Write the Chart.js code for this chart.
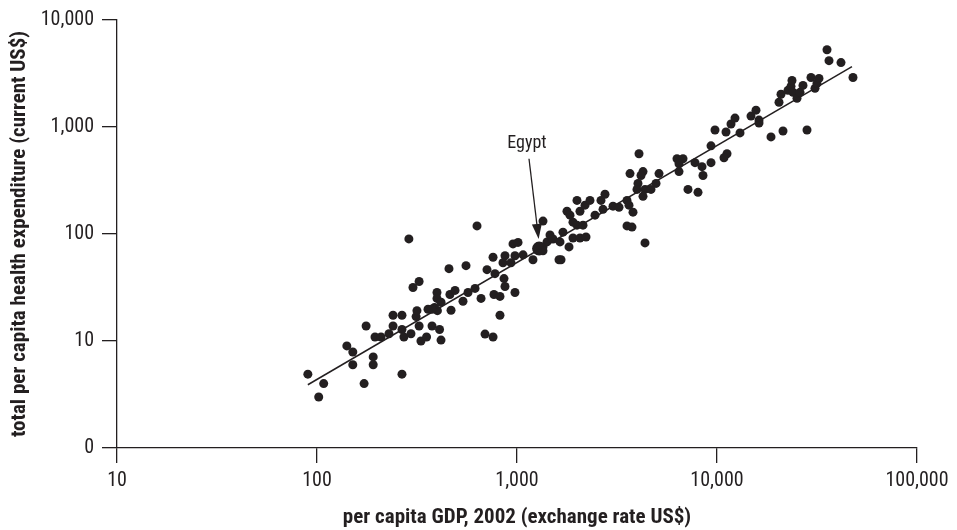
<!DOCTYPE html>
<html>
<head>
<meta charset="utf-8">
<script src="https://cdn.jsdelivr.net/npm/chart.js@4/dist/chart.umd.min.js"></script>
<style>
  html, body { margin: 0; padding: 0; background: #fff; }
  canvas { display: block; }
</style>
</head>
<body>
<canvas id="chart" width="957" height="530"></canvas>
<script>
// Data (both axes are log scale)
const gdp = [
  90, 102, 108, 141, 151, 151, 172, 176, 191, 191,
  195, 209, 229, 240, 240, 266, 266, 272, 266, 295,
  288, 302, 324, 313, 316, 324, 331, 353, 359, 376,
  387, 400, 410, 417, 376, 398, 398, 417, 457, 462,
  468, 490, 537, 556, 569, 617, 631, 661, 692, 759,
  708, 759, 776, 767, 822, 822, 861, 871, 871, 851,
  933, 977, 977, 955, 1012, 1072, 1202, 1349, 1349, 1349,
  1413, 1462, 1514, 1641, 1698, 1622, 1660, 1778, 1841, 1820,
  1905, 1995, 1905, 1995, 2065, 2065, 2138, 2188, 2213, 2317,
  2455, 2630, 2692, 2754, 3020, 3236, 3548, 3631, 3802, 3548,
  3758, 4365, 3673, 4074, 4266, 4169, 5129, 4955, 4027, 3981,
  4365, 4677, 4266, 6310, 6761, 6457, 7762, 8414, 9333, 6457,
  8511, 7161, 8035, 9333, 9772, 11092, 11220, 10839, 11749, 12303,
  13032, 14791, 15668, 16218, 16218, 18621, 21380, 20417, 20893, 22646,
  23442, 23714, 23988, 25119, 26002, 26915, 28184, 29512, 30903, 31623,
  32359, 35481, 36308, 41687, 47863
];
const health = [
  4.9, 3.0, 4.0, 9.0, 7.9, 6.0, 4.0, 13.8, 7.1, 6.0,
  10.9, 10.9, 11.7, 13.8, 17.4, 17.4, 12.8, 10.9, 4.9, 11.7,
  90, 31.6, 36, 16.9, 19.2, 13.8, 10, 10.9, 19.8, 13.8,
  20.6, 19.2, 12.8, 10.2, 19.8, 28.4, 25, 23, 47.4, 27.2,
  19.4, 29.7, 23.5, 50.6, 28.4, 31, 119, 25, 11.6, 10.9,
  46.4, 60.6, 42.6, 27.2, 26.1, 17.4, 38.3, 32.3, 62.6, 53.9,
  53.9, 62.6, 28.4, 80.8, 83.4, 63.9, 57.4, 132, 75.8, 69.6,
  84.3, 97.9, 89.9, 84.3, 104, 57.4, 57.4, 163, 150, 75.8,
  129, 121, 91.8, 206, 163, 91.8, 121, 186, 93.8, 206,
  150, 206, 170, 235, 182, 178, 206, 186, 160, 119,
  116, 82.6, 367, 562, 383, 352, 367, 297, 297, 261,
  261, 261, 225, 505, 505, 454, 464, 426, 464, 383,
  352, 261, 245, 667, 938, 899, 562, 516, 1066, 1211,
  880, 1264, 1436, 1161, 1089, 808, 918, 1703, 2021, 2202,
  2398, 2723, 2109, 1857, 2109, 2448, 938, 2904, 2297, 2555,
  2844, 5272, 4170, 4000, 2904
];

// fitted line end points
const trendGdp = [90, 47300];
const trendHealth = [3.9, 3670];

// Egypt: the point, where the label sits and where the arrow starts
const egyptGdp = [1290];
const egyptHealth = [73];
const egyptLabel = ['Egypt'];
const egyptLabelAt = [1122, 700];
const egyptArrowFrom = [1148, 505];
const egyptArrowTo = [1283, 90];

const xTicks = [10, 100, 1000, 10000, 100000];
const xTickLabels = ['10', '100', '1,000', '10,000', '100,000'];
const yTicks = [1, 10, 100, 1000, 10000];
const yTickLabels = ['0', '10', '100', '1,000', '10,000'];

const ink = '#231f20';
const family = "'Liberation Sans Narrow', 'Roboto Condensed', 'DejaVu Sans Condensed', sans-serif";

const points = gdp.map((g, i) => ({ x: g, y: health[i] }));
const trend = trendGdp.map((g, i) => ({ x: g, y: trendHealth[i] }));
const egypt = egyptGdp.map((g, i) => ({ x: g, y: egyptHealth[i] }));

// label + arrow for Egypt
const egyptNote = {
  id: 'egyptNote',
  afterDatasetsDraw(chart) {
    const { ctx, scales: { x, y } } = chart;
    const lx = x.getPixelForValue(egyptLabelAt[0]), ly = y.getPixelForValue(egyptLabelAt[1]);
    const x0 = x.getPixelForValue(egyptArrowFrom[0]), y0 = y.getPixelForValue(egyptArrowFrom[1]);
    const x1 = x.getPixelForValue(egyptArrowTo[0]), y1 = y.getPixelForValue(egyptArrowTo[1]);
    ctx.save();
    ctx.fillStyle = ink;
    ctx.strokeStyle = ink;
    ctx.font = `18px ${family}`;
    ctx.textAlign = 'center';
    ctx.textBaseline = 'middle';
    ctx.fillText(egyptLabel[0], lx, ly);
    const ang = Math.atan2(y1 - y0, x1 - x0);
    const headLen = 15, headW = 5;
    const bx = x1 - headLen * Math.cos(ang), by = y1 - headLen * Math.sin(ang);
    ctx.lineWidth = 1.3;
    ctx.beginPath();
    ctx.moveTo(x0, y0);
    ctx.lineTo(bx, by);
    ctx.stroke();
    ctx.beginPath();
    ctx.moveTo(x1, y1);
    ctx.lineTo(bx + headW * Math.sin(ang), by - headW * Math.cos(ang));
    ctx.lineTo(bx - headW * Math.sin(ang), by + headW * Math.cos(ang));
    ctx.closePath();
    ctx.fill();
    ctx.restore();
  }
};

new Chart(document.getElementById('chart'), {
  type: 'scatter',
  data: {
    datasets: [
      { data: points, pointRadius: 4.5, pointHoverRadius: 4.5, backgroundColor: ink, borderWidth: 0, order: 2 },
      { data: egypt, pointRadius: 7, backgroundColor: ink, borderWidth: 0, order: 1 },
      { type: 'line', data: trend, showLine: true, pointRadius: 0, borderColor: ink, borderWidth: 1.5, fill: false, order: 0 }
    ]
  },
  options: {
    responsive: false,
    animation: false,
    layout: { padding: { left: 0, right: 40, top: 16, bottom: 0 } },
    plugins: { legend: { display: false }, tooltip: { enabled: false } },
    scales: {
      x: {
        type: 'logarithmic',
        min: 10, max: 100000,
        afterBuildTicks: s => { s.ticks = xTicks.map(v => ({ value: v })); },
        afterFit: s => { s.height = 82; },
        border: { color: ink, width: 1.3 },
        grid: { drawOnChartArea: false, tickLength: 15, color: ink, lineWidth: 1.3 },
        ticks: { color: ink, font: { family, size: 20 }, padding: 6, maxRotation: 0, callback: (v, i) => xTickLabels[i] },
        title: { display: true, text: 'per capita GDP, 2002 (exchange rate US$)', color: ink,
                 font: { family, size: 21, weight: 'bold' }, padding: { top: 0, bottom: 0 } }
      },
      y: {
        type: 'logarithmic',
        min: 1, max: 10000,
        afterBuildTicks: s => { s.ticks = yTicks.map(v => ({ value: v })); },
        afterFit: s => { s.width = 117; },
        border: { color: ink, width: 1.3 },
        grid: { drawOnChartArea: false, tickLength: 15, color: ink, lineWidth: 1.3 },
        ticks: { color: ink, font: { family, size: 20 }, padding: 8, callback: (v, i) => yTickLabels[i] },
        title: { display: true, text: 'total per capita health expenditure (current US$)', color: ink,
                 font: { family, size: 21, weight: 'bold' }, padding: { top: 7, bottom: 0 } }
      }
    }
  },
  plugins: [egyptNote]
});
</script>
</body>
</html>
